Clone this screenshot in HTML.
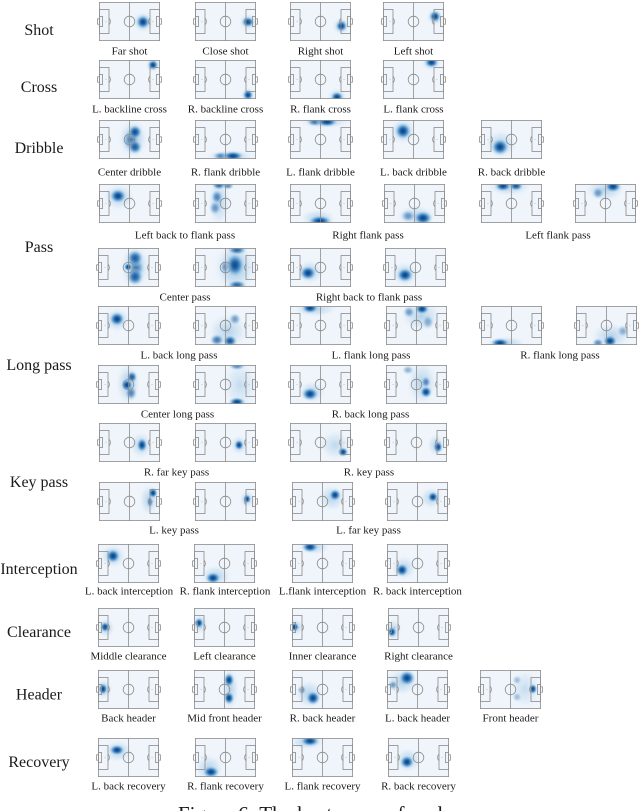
<!DOCTYPE html>
<html><head><meta charset="utf-8"><style>
html,body{margin:0;padding:0;background:#fff}
svg{display:block}
.b{fill:url(#b);transform-box:fill-box;transform-origin:center;transform:scale(1.3)}
.h{fill:url(#h);transform-box:fill-box;transform-origin:center;transform:scale(1.15)}
text{font-family:"Liberation Serif",serif;fill:#1a1a1a}
.r{font-size:16px;text-anchor:middle}
.l{font-size:11px;text-anchor:middle}
</style></head><body>
<svg width="640" height="811" viewBox="0 0 640 811" xmlns="http://www.w3.org/2000/svg">
<defs>
<radialGradient id="b"><stop offset="0" stop-color="#083f86"/><stop offset=".28" stop-color="#15599f" stop-opacity=".95"/><stop offset=".5" stop-color="#3c85c2" stop-opacity=".8"/><stop offset=".7" stop-color="#7fb3dc" stop-opacity=".5"/><stop offset=".86" stop-color="#b8d5ec" stop-opacity=".25"/><stop offset="1" stop-color="#dbe9f6" stop-opacity="0"/></radialGradient>
<radialGradient id="h"><stop offset="0" stop-color="#7fb3dc" stop-opacity=".55"/><stop offset=".6" stop-color="#b5d4ec" stop-opacity=".35"/><stop offset="1" stop-color="#e0edf8" stop-opacity="0"/></radialGradient>
<clipPath id="c" clipPathUnits="userSpaceOnUse"><rect x="0" y="0" width="61" height="39"/></clipPath>
<g id="p" fill="none" stroke="#8c8c8c" stroke-width="0.8">
<rect x="0.4" y="0.4" width="60.2" height="38.2"/>
<line x1="30.5" y1="0.4" x2="30.5" y2="38.6"/>
<circle cx="30.5" cy="19.5" r="5.3"/>
<rect x="0.4" y="7.5" width="9.6" height="24"/>
<rect x="0.4" y="14.5" width="3.2" height="10"/>
<rect x="-1.4" y="16.8" width="1.8" height="5.4"/>
<path d="M10 16.2A4.6 4.6 0 0 1 10 22.8"/>
<rect x="51" y="7.5" width="9.6" height="24"/>
<rect x="57.4" y="14.5" width="3.2" height="10"/>
<rect x="60.6" y="16.8" width="1.8" height="5.4"/>
<path d="M51 16.2A4.6 4.6 0 0 0 51 22.8"/>
<circle cx="7" cy="19.5" r="0.4" fill="#8c8c8c" stroke="none"/>
<circle cx="54" cy="19.5" r="0.4" fill="#8c8c8c" stroke="none"/>
</g>
<rect id="bg" width="61" height="39" fill="#f0f5fb"/>
</defs>

<!-- Row labels -->
<text class="r" x="39" y="35">Shot</text>
<text class="r" x="39" y="92">Cross</text>
<text class="r" x="39" y="153">Dribble</text>
<text class="r" x="39" y="252">Pass</text>
<text class="r" x="39" y="370">Long pass</text>
<text class="r" x="39" y="487">Key pass</text>
<text class="r" x="39" y="574">Interception</text>
<text class="r" x="39" y="637">Clearance</text>
<text class="r" x="39" y="699.5">Header</text>
<text class="r" x="39" y="767">Recovery</text>

<!-- Shot -->
<g transform="translate(99,2)"><use href="#bg"/><g clip-path="url(#c)"><ellipse class="h" cx="44" cy="20" rx="10" ry="10"/><ellipse class="b" cx="44" cy="20" rx="6" ry="6"/></g><use href="#p"/></g>
<g transform="translate(195,2)"><use href="#bg"/><g clip-path="url(#c)"><ellipse class="h" cx="53" cy="20" rx="8" ry="8"/><ellipse class="b" cx="53" cy="20" rx="5.5" ry="4.5"/></g><use href="#p"/></g>
<g transform="translate(290,2)"><use href="#bg"/><g clip-path="url(#c)"><ellipse class="h" cx="51" cy="24" rx="8" ry="8"/><ellipse class="b" cx="51.5" cy="24" rx="5" ry="5"/></g><use href="#p"/></g>
<g transform="translate(383,2)"><use href="#bg"/><g clip-path="url(#c)"><ellipse class="h" cx="52" cy="15" rx="8" ry="8"/><ellipse class="b" cx="52" cy="14.5" rx="5" ry="5"/></g><use href="#p"/></g>
<text class="l" x="129.5" y="54.5">Far shot</text>
<text class="l" x="225.5" y="54.5">Close shot</text>
<text class="l" x="320.5" y="54.5">Right shot</text>
<text class="l" x="413.5" y="54.5">Left shot</text>

<!-- Cross -->
<g transform="translate(99,60)"><use href="#bg"/><g clip-path="url(#c)"><ellipse class="h" cx="54" cy="5" rx="7" ry="7"/><ellipse class="b" cx="54" cy="5" rx="4.5" ry="4.5"/></g><use href="#p"/></g>
<g transform="translate(195,60)"><use href="#bg"/><g clip-path="url(#c)"><ellipse class="h" cx="53" cy="35" rx="7" ry="7"/><ellipse class="b" cx="53" cy="35" rx="4.5" ry="4.5"/></g><use href="#p"/></g>
<g transform="translate(290,60)"><use href="#bg"/><g clip-path="url(#c)"><ellipse class="h" cx="47" cy="36" rx="9" ry="7"/><ellipse class="b" cx="47" cy="37" rx="5.5" ry="4.5"/></g><use href="#p"/></g>
<g transform="translate(383,60)"><use href="#bg"/><g clip-path="url(#c)"><ellipse class="h" cx="48" cy="3" rx="9" ry="7"/><ellipse class="b" cx="48.5" cy="2.5" rx="6" ry="4.5"/></g><use href="#p"/></g>
<text class="l" x="129.5" y="112.5">L. backline cross</text>
<text class="l" x="225.5" y="112.5">R. backline cross</text>
<text class="l" x="320.5" y="112.5">R. flank cross</text>
<text class="l" x="413.5" y="112.5">L. flank cross</text>

<!-- Dribble -->
<g transform="translate(99,120)"><use href="#bg"/><g clip-path="url(#c)"><ellipse class="h" cx="34" cy="19" rx="14" ry="18"/><ellipse class="h" cx="34" cy="19" rx="10" ry="14"/><ellipse class="b" cx="32" cy="20" rx="7" ry="9" opacity=".6"/><ellipse class="b" cx="36" cy="12" rx="6" ry="6" opacity=".95"/><ellipse class="b" cx="36" cy="27" rx="6" ry="6" opacity=".85"/></g><use href="#p"/></g>
<g transform="translate(195,120)"><use href="#bg"/><g clip-path="url(#c)"><ellipse class="h" cx="35" cy="36" rx="22" ry="6"/><ellipse class="b" cx="26" cy="36" rx="7" ry="3.5" opacity=".6"/><ellipse class="b" cx="38" cy="36" rx="9" ry="4"/></g><use href="#p"/></g>
<g transform="translate(290,120)"><use href="#bg"/><g clip-path="url(#c)"><ellipse class="h" cx="35" cy="2" rx="22" ry="6"/><ellipse class="b" cx="25" cy="2" rx="7" ry="3.5" opacity=".7"/><ellipse class="b" cx="37" cy="2" rx="9" ry="4"/></g><use href="#p"/></g>
<g transform="translate(383,120)"><use href="#bg"/><g clip-path="url(#c)"><ellipse class="h" cx="20" cy="11" rx="12" ry="12"/><ellipse class="b" cx="20" cy="11" rx="7" ry="7"/></g><use href="#p"/></g>
<g transform="translate(481,120)"><use href="#bg"/><g clip-path="url(#c)"><ellipse class="h" cx="20" cy="24" rx="14" ry="13"/><ellipse class="b" cx="19" cy="27" rx="7.5" ry="7"/></g><use href="#p"/></g>
<text class="l" x="129.5" y="175.5">Center dribble</text>
<text class="l" x="225.5" y="175.5">R. flank dribble</text>
<text class="l" x="320.5" y="175.5">L. flank dribble</text>
<text class="l" x="413.5" y="175.5">L. back dribble</text>
<text class="l" x="511.5" y="175.5">R. back dribble</text>

<!-- Pass row 1 -->
<g transform="translate(99,184)"><use href="#bg"/><g clip-path="url(#c)"><ellipse class="h" cx="20" cy="13" rx="14" ry="12"/><ellipse class="b" cx="19" cy="12" rx="7" ry="6"/></g><use href="#p"/></g>
<g transform="translate(195,184)"><use href="#bg"/><g clip-path="url(#c)"><ellipse class="h" cx="24" cy="18" rx="10" ry="22"/><ellipse class="b" cx="22" cy="13" rx="5" ry="6" opacity=".6"/><ellipse class="b" cx="20" cy="24" rx="5" ry="6" opacity=".5"/><ellipse class="b" cx="24" cy="1" rx="6" ry="4" opacity=".8"/><ellipse class="b" cx="33" cy="2" rx="5" ry="3" opacity=".6"/></g><use href="#p"/></g>
<g transform="translate(290,184)"><use href="#bg"/><g clip-path="url(#c)"><ellipse class="h" cx="28" cy="34" rx="16" ry="8"/><ellipse class="b" cx="30" cy="37" rx="10" ry="4.5"/></g><use href="#p"/></g>
<g transform="translate(384,184)"><use href="#bg"/><g clip-path="url(#c)"><ellipse class="h" cx="32" cy="32" rx="18" ry="10"/><ellipse class="b" cx="24" cy="32" rx="6" ry="5" opacity=".5"/><ellipse class="b" cx="39" cy="34" rx="8" ry="6"/></g><use href="#p"/></g>
<g transform="translate(481,184)"><use href="#bg"/><g clip-path="url(#c)"><ellipse class="h" cx="28" cy="3" rx="20" ry="8"/><ellipse class="b" cx="22" cy="2" rx="7" ry="4.5"/><ellipse class="b" cx="35" cy="2" rx="6" ry="4" opacity=".9"/></g><use href="#p"/></g>
<g transform="translate(575,184)"><use href="#bg"/><g clip-path="url(#c)"><ellipse class="h" cx="30" cy="6" rx="18" ry="10"/><ellipse class="b" cx="23" cy="9" rx="5" ry="5" opacity=".5"/><ellipse class="b" cx="38" cy="2.5" rx="7" ry="5"/></g><use href="#p"/></g>
<text class="l" x="185" y="238.5">Left back to flank pass</text>
<text class="l" x="368" y="238.5">Right flank pass</text>
<text class="l" x="558" y="238.5">Left flank pass</text>

<!-- Pass row 2 -->
<g transform="translate(98,248)"><use href="#bg"/><g clip-path="url(#c)"><ellipse class="h" cx="37" cy="19" rx="14" ry="20"/><ellipse class="h" cx="37" cy="19" rx="10" ry="16"/><ellipse class="b" cx="38" cy="20" rx="7" ry="9" opacity=".6"/><ellipse class="b" cx="37" cy="10" rx="7" ry="7" opacity=".85"/><ellipse class="b" cx="37" cy="29" rx="7" ry="7" opacity=".85"/><ellipse class="b" cx="30" cy="19" rx="3.5" ry="3.5"/></g><use href="#p"/></g>
<g transform="translate(195,248)"><use href="#bg"/><g clip-path="url(#c)"><ellipse class="h" cx="40" cy="19" rx="20" ry="22"/><ellipse class="h" cx="40" cy="19" rx="14" ry="20"/><ellipse class="b" cx="30" cy="19" rx="4" ry="6" opacity=".5"/><ellipse class="b" cx="40" cy="17" rx="8" ry="10" opacity=".95"/><ellipse class="b" cx="42" cy="2" rx="8" ry="4" opacity=".8"/><ellipse class="b" cx="42" cy="37" rx="8" ry="4" opacity=".8"/></g><use href="#p"/></g>
<g transform="translate(290,248)"><use href="#bg"/><g clip-path="url(#c)"><ellipse class="h" cx="20" cy="24" rx="12" ry="11"/><ellipse class="b" cx="18" cy="25" rx="7" ry="6"/></g><use href="#p"/></g>
<g transform="translate(385,248)"><use href="#bg"/><g clip-path="url(#c)"><ellipse class="h" cx="20" cy="26" rx="12" ry="11"/><ellipse class="b" cx="20" cy="27" rx="7" ry="6"/></g><use href="#p"/></g>
<text class="l" x="185" y="300.5">Center pass</text>
<text class="l" x="369" y="300.5">Right back to flank pass</text>

<!-- Long pass row 1 -->
<g transform="translate(98,306)"><use href="#bg"/><g clip-path="url(#c)"><ellipse class="h" cx="19" cy="14" rx="12" ry="11"/><ellipse class="b" cx="19" cy="13" rx="6.5" ry="6"/></g><use href="#p"/></g>
<g transform="translate(195,306)"><use href="#bg"/><g clip-path="url(#c)"><ellipse class="h" cx="33" cy="25" rx="18" ry="16"/><ellipse class="b" cx="40" cy="13" rx="5" ry="5" opacity=".5"/><ellipse class="b" cx="22" cy="34" rx="6" ry="5" opacity=".7"/><ellipse class="b" cx="35" cy="35" rx="6" ry="5" opacity=".9"/></g><use href="#p"/></g>
<g transform="translate(290,306)"><use href="#bg"/><g clip-path="url(#c)"><ellipse class="h" cx="25" cy="3" rx="20" ry="7"/><ellipse class="b" cx="20" cy="2" rx="7" ry="4.5"/></g><use href="#p"/></g>
<g transform="translate(386,306)"><use href="#bg"/><g clip-path="url(#c)"><ellipse class="h" cx="35" cy="10" rx="18" ry="14"/><ellipse class="b" cx="23" cy="6" rx="5" ry="5" opacity=".5"/><ellipse class="b" cx="42" cy="16" rx="5" ry="6" opacity=".4"/><ellipse class="b" cx="36" cy="3" rx="6" ry="4.5"/></g><use href="#p"/></g>
<g transform="translate(481,306)"><use href="#bg"/><g clip-path="url(#c)"><ellipse class="h" cx="25" cy="37" rx="18" ry="6"/><ellipse class="b" cx="19" cy="37" rx="8" ry="4"/></g><use href="#p"/></g>
<g transform="translate(576,306)"><use href="#bg"/><g clip-path="url(#c)"><ellipse class="h" cx="35" cy="30" rx="18" ry="12"/><ellipse class="b" cx="22" cy="37" rx="5" ry="4" opacity=".6"/><ellipse class="b" cx="47" cy="25" rx="5" ry="5" opacity=".4"/><ellipse class="b" cx="34" cy="35" rx="6" ry="5"/></g><use href="#p"/></g>
<text class="l" x="179" y="358.5">L. back long pass</text>
<text class="l" x="371" y="358.5">L. flank long pass</text>
<text class="l" x="560" y="358.5">R. flank long pass</text>

<!-- Long pass row 2 -->
<g transform="translate(98,365)"><use href="#bg"/><g clip-path="url(#c)"><ellipse class="h" cx="30" cy="19" rx="11" ry="19"/><ellipse class="h" cx="31" cy="19" rx="8" ry="14"/><ellipse class="b" cx="33" cy="28" rx="5" ry="6" opacity=".6"/><ellipse class="b" cx="34" cy="12" rx="4.5" ry="5" opacity=".85"/><ellipse class="b" cx="29" cy="20" rx="5" ry="5"/></g><use href="#p"/></g>
<g transform="translate(195,365)"><use href="#bg"/><g clip-path="url(#c)"><ellipse class="h" cx="45" cy="20" rx="16" ry="22" opacity=".7"/><ellipse class="b" cx="42" cy="1" rx="7" ry="3.5" opacity=".6"/><ellipse class="b" cx="42" cy="37" rx="7" ry="4"/></g><use href="#p"/></g>
<g transform="translate(290,365)"><use href="#bg"/><g clip-path="url(#c)"><ellipse class="h" cx="22" cy="27" rx="12" ry="10"/><ellipse class="b" cx="20" cy="29" rx="7" ry="5.5"/></g><use href="#p"/></g>
<g transform="translate(386,365)"><use href="#bg"/><g clip-path="url(#c)"><ellipse class="h" cx="36" cy="18" rx="14" ry="20"/><ellipse class="b" cx="22" cy="5" rx="5" ry="4" opacity=".4"/><ellipse class="b" cx="40" cy="17" rx="4" ry="5" opacity=".6"/><ellipse class="b" cx="40" cy="27" rx="5" ry="5"/></g><use href="#p"/></g>
<text class="l" x="177.5" y="417.5">Center long pass</text>
<text class="l" x="370.5" y="417.5">R. back long pass</text>

<!-- Key pass row 1 -->
<g transform="translate(99,423)"><use href="#bg"/><g clip-path="url(#c)"><ellipse class="h" cx="42" cy="22" rx="10" ry="12"/><ellipse class="b" cx="43" cy="22" rx="4.5" ry="6"/></g><use href="#p"/></g>
<g transform="translate(195,423)"><use href="#bg"/><g clip-path="url(#c)"><ellipse class="h" cx="44" cy="22" rx="8" ry="9"/><ellipse class="b" cx="44" cy="22" rx="4" ry="4.5"/></g><use href="#p"/></g>
<g transform="translate(290,423)"><use href="#bg"/><g clip-path="url(#c)"><ellipse class="h" cx="45" cy="22" rx="14" ry="14" opacity=".8"/><ellipse class="b" cx="53" cy="29" rx="4.5" ry="4"/></g><use href="#p"/></g>
<g transform="translate(386,423)"><use href="#bg"/><g clip-path="url(#c)"><ellipse class="h" cx="50" cy="22" rx="8" ry="10"/><ellipse class="b" cx="52" cy="24" rx="4" ry="5"/></g><use href="#p"/></g>
<text class="l" x="176.5" y="475.5">R. far key pass</text>
<text class="l" x="369" y="475.5">R. key pass</text>

<!-- Key pass row 2 -->
<g transform="translate(99,482)"><use href="#bg"/><g clip-path="url(#c)"><ellipse class="h" cx="50" cy="18" rx="9" ry="14"/><ellipse class="b" cx="51" cy="20" rx="3" ry="5" opacity=".6"/><ellipse class="b" cx="54" cy="11" rx="4" ry="4.5"/></g><use href="#p"/></g>
<g transform="translate(195,482)"><use href="#bg"/><g clip-path="url(#c)"><ellipse class="h" cx="52" cy="17" rx="7" ry="8"/><ellipse class="b" cx="52" cy="17" rx="3.5" ry="4"/></g><use href="#p"/></g>
<g transform="translate(292,482)"><use href="#bg"/><g clip-path="url(#c)"><ellipse class="h" cx="40" cy="16" rx="12" ry="12"/><ellipse class="b" cx="43" cy="13" rx="5" ry="5"/></g><use href="#p"/></g>
<g transform="translate(387,482)"><use href="#bg"/><g clip-path="url(#c)"><ellipse class="h" cx="44" cy="16" rx="10" ry="10"/><ellipse class="b" cx="46" cy="15" rx="4.5" ry="4.5"/></g><use href="#p"/></g>
<text class="l" x="174" y="533.5">L. key pass</text>
<text class="l" x="368.5" y="533.5">L. far key pass</text>

<!-- Interception -->
<g transform="translate(98,544)"><use href="#bg"/><g clip-path="url(#c)"><ellipse class="h" cx="15" cy="12" rx="12" ry="11"/><ellipse class="b" cx="15" cy="12" rx="6" ry="6"/></g><use href="#p"/></g>
<g transform="translate(194,544)"><use href="#bg"/><g clip-path="url(#c)"><ellipse class="h" cx="22" cy="32" rx="14" ry="10"/><ellipse class="b" cx="19" cy="34" rx="6.5" ry="5"/></g><use href="#p"/></g>
<g transform="translate(292,544)"><use href="#bg"/><g clip-path="url(#c)"><ellipse class="h" cx="22" cy="3" rx="14" ry="7"/><ellipse class="b" cx="18" cy="3" rx="7" ry="4.5"/></g><use href="#p"/></g>
<g transform="translate(387,544)"><use href="#bg"/><g clip-path="url(#c)"><ellipse class="h" cx="17" cy="24" rx="11" ry="11"/><ellipse class="b" cx="15" cy="26" rx="5.5" ry="5.5"/></g><use href="#p"/></g>
<text class="l" x="129" y="594.5">L. back interception</text>
<text class="l" x="225" y="594.5">R. flank interception</text>
<text class="l" x="322.5" y="594.5">L.flank interception</text>
<text class="l" x="417.5" y="594.5">R. back interception</text>

<!-- Clearance -->
<g transform="translate(98,608)"><use href="#bg"/><g clip-path="url(#c)"><ellipse class="h" cx="8" cy="20" rx="8" ry="9"/><ellipse class="b" cx="7" cy="19" rx="4" ry="4.5"/></g><use href="#p"/></g>
<g transform="translate(194,608)"><use href="#bg"/><g clip-path="url(#c)"><ellipse class="h" cx="6" cy="16" rx="7" ry="9"/><ellipse class="b" cx="5" cy="15" rx="4" ry="4.5"/></g><use href="#p"/></g>
<g transform="translate(292,608)"><use href="#bg"/><g clip-path="url(#c)"><ellipse class="h" cx="4" cy="19" rx="7" ry="8"/><ellipse class="b" cx="2.5" cy="19" rx="4" ry="4"/></g><use href="#p"/></g>
<g transform="translate(388,608)"><use href="#bg"/><g clip-path="url(#c)"><ellipse class="h" cx="5" cy="22" rx="8" ry="10"/><ellipse class="b" cx="4" cy="24" rx="4" ry="4.5"/></g><use href="#p"/></g>
<text class="l" x="128.5" y="659.5">Middle clearance</text>
<text class="l" x="224.5" y="659.5">Left clearance</text>
<text class="l" x="322.5" y="659.5">Inner clearance</text>
<text class="l" x="418.5" y="659.5">Right clearance</text>

<!-- Header -->
<g transform="translate(98,670)"><use href="#bg"/><g clip-path="url(#c)"><ellipse class="h" cx="6" cy="19" rx="8" ry="9"/><ellipse class="b" cx="5" cy="19" rx="4" ry="5"/></g><use href="#p"/></g>
<g transform="translate(194,670)"><use href="#bg"/><g clip-path="url(#c)"><ellipse class="h" cx="36" cy="19" rx="8" ry="20"/><ellipse class="b" cx="35" cy="10" rx="4.5" ry="6"/><ellipse class="b" cx="35" cy="28" rx="4.5" ry="5.5"/></g><use href="#p"/></g>
<g transform="translate(292,670)"><use href="#bg"/><g clip-path="url(#c)"><ellipse class="h" cx="17" cy="24" rx="13" ry="13"/><ellipse class="b" cx="10" cy="20" rx="4" ry="4" opacity=".4"/><ellipse class="b" cx="21" cy="28" rx="6" ry="6"/></g><use href="#p"/></g>
<g transform="translate(387,670)"><use href="#bg"/><g clip-path="url(#c)"><ellipse class="h" cx="15" cy="12" rx="15" ry="12"/><ellipse class="b" cx="6" cy="15" rx="4" ry="4" opacity=".5"/><ellipse class="b" cx="20" cy="8" rx="7" ry="6.5"/></g><use href="#p"/></g>
<g transform="translate(480,670)"><use href="#bg"/><g clip-path="url(#c)"><ellipse class="h" cx="45" cy="19" rx="14" ry="18" opacity=".7"/><ellipse class="b" cx="37" cy="10" rx="4" ry="4" opacity=".3"/><ellipse class="b" cx="37" cy="27" rx="4" ry="4" opacity=".3"/><ellipse class="b" cx="53" cy="19" rx="3.5" ry="4.5"/></g><use href="#p"/></g>
<text class="l" x="128.5" y="721.5">Back header</text>
<text class="l" x="224.5" y="721.5">Mid front header</text>
<text class="l" x="322.5" y="721.5">R. back header</text>
<text class="l" x="417.5" y="721.5">L. back header</text>
<text class="l" x="510.5" y="721.5">Front header</text>

<!-- Recovery -->
<g transform="translate(98,738)"><use href="#bg"/><g clip-path="url(#c)"><ellipse class="h" cx="20" cy="13" rx="13" ry="10"/><ellipse class="b" cx="19" cy="12" rx="6.5" ry="4.5"/></g><use href="#p"/></g>
<g transform="translate(195,738)"><use href="#bg"/><g clip-path="url(#c)"><ellipse class="h" cx="14" cy="30" rx="13" ry="12"/><ellipse class="b" cx="16" cy="34" rx="7" ry="5"/></g><use href="#p"/></g>
<g transform="translate(292,738)"><use href="#bg"/><g clip-path="url(#c)"><ellipse class="h" cx="15" cy="4" rx="16" ry="7"/><ellipse class="b" cx="18" cy="3" rx="8" ry="4.5"/></g><use href="#p"/></g>
<g transform="translate(388,738)"><use href="#bg"/><g clip-path="url(#c)"><ellipse class="h" cx="20" cy="22" rx="12" ry="11"/><ellipse class="b" cx="19" cy="24" rx="6" ry="5.5"/></g><use href="#p"/></g>
<text class="l" x="128.5" y="789.5">L. back recovery</text>
<text class="l" x="225.5" y="789.5">R. flank recovery</text>
<text class="l" x="322.5" y="789.5">L. flank recovery</text>
<text class="l" x="418.5" y="789.5">R. back recovery</text>

<text x="178" y="821" style="font-size:21px">Figure 6: The heat maps of each</text>
</svg>
</body></html>
